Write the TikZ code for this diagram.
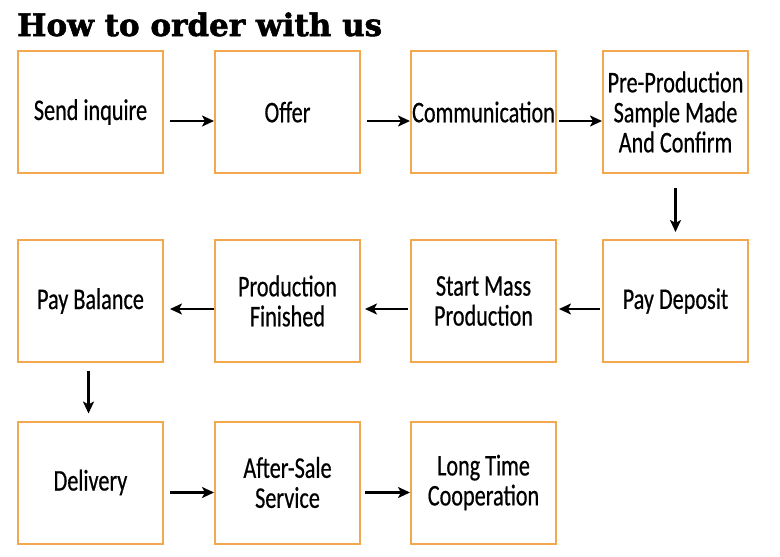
\documentclass[tikz,border=0pt]{standalone}
\usepackage{fontspec}
\setmainfont[FakeStretch=0.74,FakeBold=0.5]{Carlito}
\newfontfamily\titlefont[BoldFeatures={FakeBold=1.8}]{DejaVu Serif}
\usetikzlibrary{arrows.meta}

\definecolor{boxorange}{RGB}{242,168,78}

\tikzset{
  orderbox/.style={draw=boxorange, line width=2pt, minimum width=145pt, minimum height=122pt,
    inner sep=0pt, align=center, font=\fontsize{30}{30}\selectfont},
  orderarrow/.style={line width=2.4pt, -{Stealth[length=12pt,width=11pt,inset=3pt]}}
}

\begin{document}
\begin{tikzpicture}[x=1pt, y=-1pt]
\useasboundingbox (0,0) rectangle (780,557);
\node[anchor=base west, inner sep=0pt, font=\titlefont\bfseries\fontsize{31}{36}\selectfont] (title) at (17,36) {How to order with us};

\node[orderbox] (b11) at (90.5,112) {Send inquire};
\node[orderbox] (b12) at (287.5,112) {Offer};
\node[orderbox] (b13) at (483.5,112) {Communication};
\node[orderbox] (b14) at (675.5,112) {Pre-Production\\Sample Made\\And Confirm};

\node[orderbox] (b21) at (90.5,301) {Pay Balance};
\node[orderbox] (b22) at (287.5,301) {Production\\Finished};
\node[orderbox] (b23) at (483.5,301) {Start Mass\\Production};
\node[orderbox] (b24) at (675.5,301) {Pay Deposit};

\node[orderbox] (b31) at (90.5,482.5) {Delivery};
\node[orderbox] (b32) at (287.5,482.5) {After-Sale\\Service};
\node[orderbox] (b33) at (483.5,482.5) {Long Time\\Cooperation};

\draw[orderarrow, shorten <=6pt] ([yshift=-9pt]b11.east) -- ([yshift=-9pt]b12.west);
\draw[orderarrow, shorten <=6pt] ([yshift=-9pt]b12.east) -- ([yshift=-9pt]b13.west);
\draw[orderarrow, shorten <=2pt] ([yshift=-9pt]b13.east) -- ([yshift=-9pt]b14.west);

\draw[orderarrow, shorten <=14pt, shorten >=7pt] (b14.south) -- (b24.north);

\draw[orderarrow, shorten <=2pt, shorten >=2pt] ([yshift=-8pt]b24.west) -- ([yshift=-8pt]b23.east);
\draw[orderarrow, shorten <=2pt, shorten >=4pt] ([yshift=-8pt]b23.west) -- ([yshift=-8pt]b22.east);
\draw[orderarrow, shorten <=0pt, shorten >=6pt] ([yshift=-8pt]b22.west) -- ([yshift=-8pt]b21.east);

\draw[orderarrow, shorten <=8pt, shorten >=7pt] ([xshift=-2pt]b21.south) -- ([xshift=-2pt]b31.north);

\draw[orderarrow, shorten <=6pt] ([yshift=-10pt]b31.east) -- ([yshift=-10pt]b32.west);
\draw[orderarrow, shorten <=4pt] ([yshift=-10pt]b32.east) -- ([yshift=-10pt]b33.west);
\end{tikzpicture}
\end{document}
